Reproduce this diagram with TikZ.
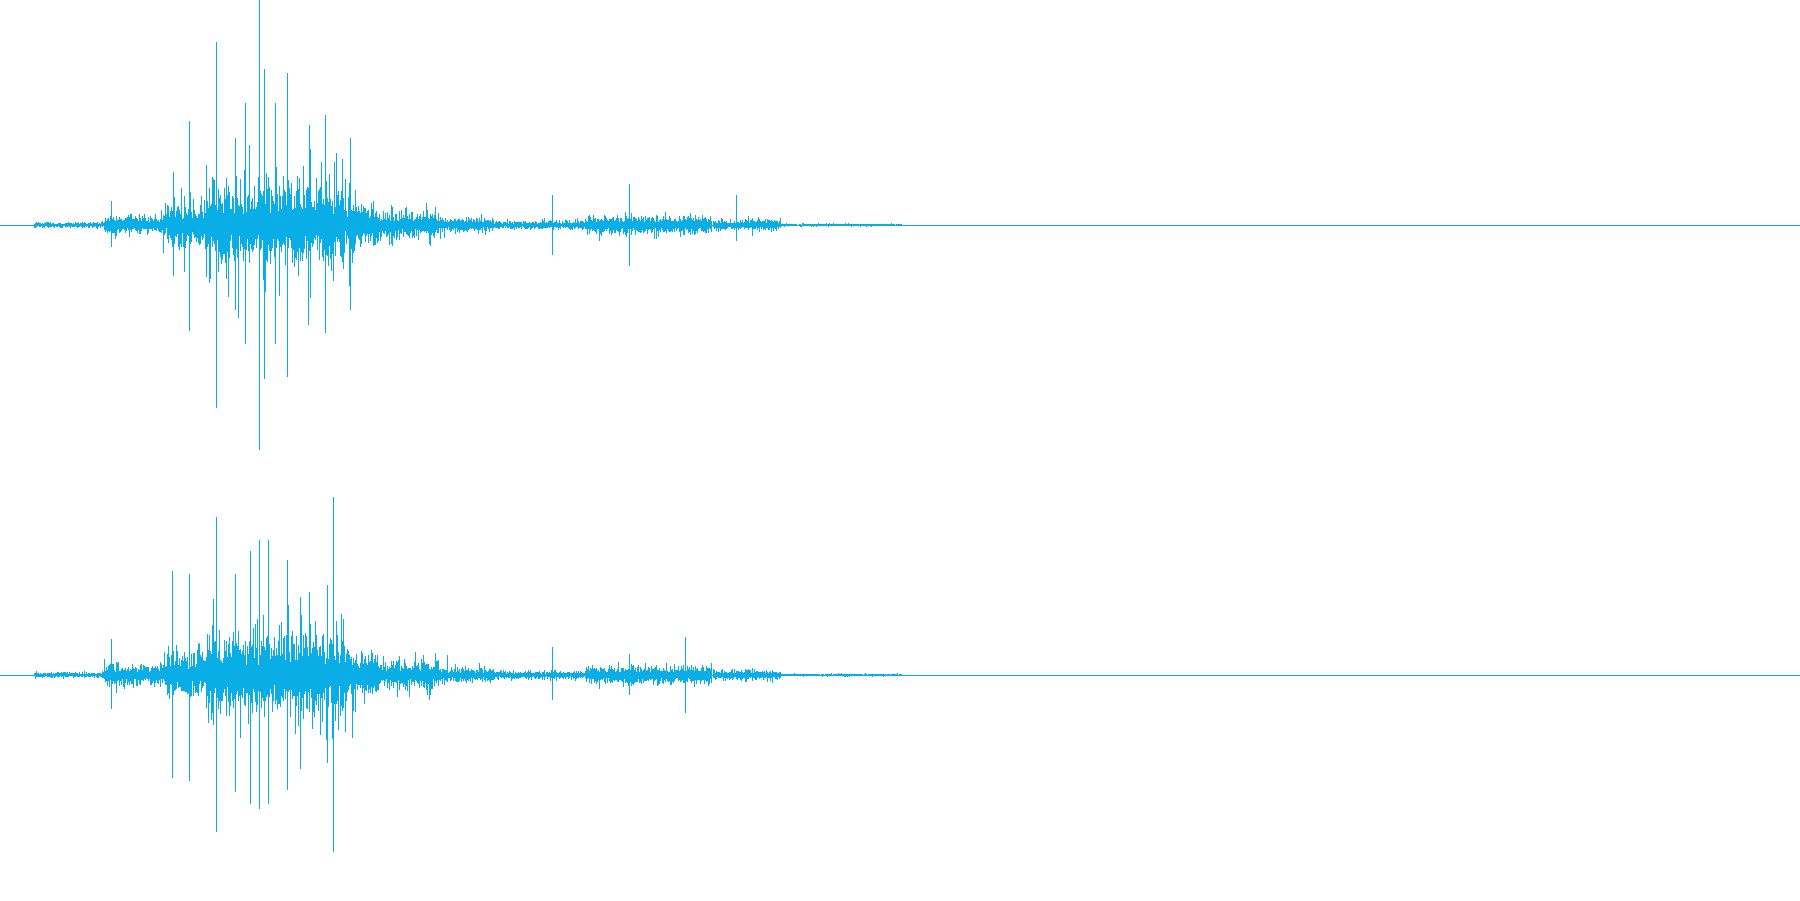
\documentclass[tikz,border=0pt]{standalone}
\definecolor{wv}{HTML}{0AAEE6}
\tikzset{wave/.style={draw=wv,line width=0.6pt}}
\newcommand\wseg[4]{\foreach \i in {#1,#1.5,...,#2}{\pgfmathsetmacro\a{#3*(0.35+1.2*rnd*rnd+2.8*rnd*rnd*rnd*rnd*rnd)}\pgfmathsetmacro\b{#3*(0.35+1.2*rnd*rnd+2.8*rnd*rnd*rnd*rnd*rnd)}\draw[wave] (\i,#4-\a) -- (\i,#4+\b);}}
\newcommand\mspk[4]{\foreach \i in {#1,#1.7,...,#2}{\pgfmathsetmacro\a{#3*rnd*rnd*rnd}\pgfmathsetmacro\b{#3*rnd*rnd*rnd}\draw[wave] (\i,#4-\a) -- (\i,#4+\b);}}
\newcommand\spk[3]{\draw[wave] (#1,#2) -- (#1,#3);}
\begin{document}
\begin{tikzpicture}[x=1.148pt,y=-1.148pt]
\pgfmathsetseed{7}
\useasboundingbox (0,0) rectangle (1568,784);
\fill[white] (0,0) rectangle (1568,784);
\foreach \c in {196,588}{
\draw[wave] (0,\c) -- (1568,\c);
\wseg{30}{90}{2}{\c}
\wseg{91}{145}{7}{\c}
\wseg{146}{180}{14}{\c}
\wseg{181}{300}{24}{\c}
\wseg{301}{330}{15}{\c}
\wseg{331}{380}{9}{\c}
\wseg{381}{430}{5}{\c}
\wseg{431}{510}{3}{\c}
\wseg{511}{620}{6}{\c}
\wseg{621}{680}{4}{\c}
\wseg{681}{785}{1}{\c}
\mspk{140}{180}{50}{\c}
\mspk{180}{310}{110}{\c}
\mspk{310}{390}{30}{\c}
\mspk{510}{620}{18}{\c}
}
% top spikes
\spk{188}{37}{355}\spk{226}{0}{392}\spk{250}{64}{328}\spk{230}{60}{330}
\spk{283}{100}{290}\spk{305}{120}{270}\spk{165}{105}{288}\spk{214}{90}{300}
\spk{240}{90}{300}\spk{548}{160}{232}\spk{481}{170}{222}\spk{641}{170}{210}
\spk{151}{150}{240}\spk{97}{175}{215}\spk{205}{120}{270}\spk{270}{130}{260}
% bottom spikes
\spk{188}{450}{725}\spk{290}{433}{742}\spk{226}{470}{705}\spk{250}{488}{688}
\spk{150}{497}{678}\spk{597}{555}{621}\spk{218}{480}{700}\spk{234}{470}{700}
\spk{165}{500}{680}\spk{285}{510}{665}\spk{97}{557}{618}\spk{481}{564}{610}
\spk{548}{570}{605}\spk{205}{500}{690}\spk{262}{520}{670}
\end{tikzpicture}
\end{document}
